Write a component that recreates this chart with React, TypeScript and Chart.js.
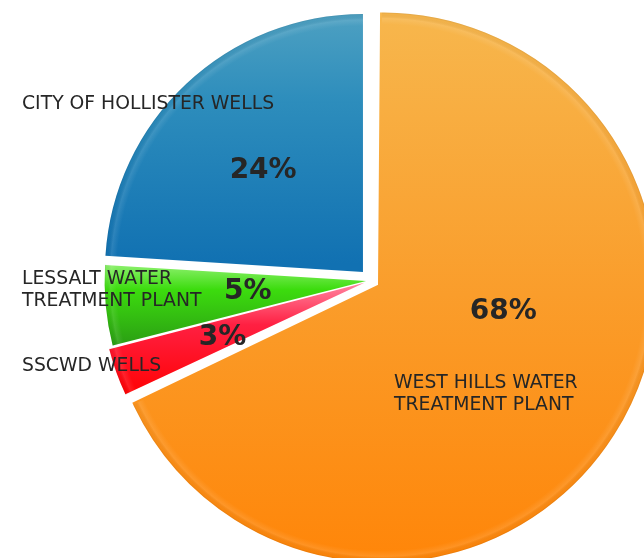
import React, { useEffect, useRef } from "react";
import { Chart, registerables } from "chart.js";

Chart.register(...registerables);

// ---- data ----
const categories = [
  "WEST HILLS WATER TREATMENT PLANT",
  "SSCWD WELLS",
  "LESSALT WATER TREATMENT PLANT",
  "CITY OF HOLLISTER WELLS",
];
const values = [68, 3, 5, 24];
const percentLabels = ["68%", "3%", "5%", "24%"];
const labelLines = [
  ["WEST HILLS WATER", "TREATMENT PLANT"],
  ["SSCWD WELLS"],
  ["LESSALT WATER", "TREATMENT PLANT"],
  ["CITY OF HOLLISTER WELLS"],
];

// ---- styles ----
const sliceOffsets = [52, 28, 20, 47];
const sliceBorders = [8, 0, 0, 0];
const gradientStops: [number, string][][] = [
  [[0, "#f7b64c"], [0.5, "#fa9d2b"], [1, "#ff8508"]],
  [[0, "#ff7f9c"], [0.35, "#ff2042"], [1, "#ff0000"]],
  [[0, "#8cf06c"], [0.3, "#3cdc0e"], [1, "#2a9c14"]],
  [[0, "#55a5c3"], [0.4, "#2d8dbc"], [1, "#1171b2"]],
];
// label placement (text only)
const catLabelPos = [
  { x: 394, y: 383 },
  { x: 22, y: 366 },
  { x: 22, y: 279 },
  { x: 22, y: 104 },
];
const pctRadiusFrac = [0.48, 0.59, 0.46, 0.55];
const pctAngleAdj = [-21, -1.5, 0, -1.5];
const BASE_RADIUS = 258;

function sliceAngles(i: number) {
  const total = values.reduce((a, b) => a + b, 0);
  let start = -Math.PI / 2;
  for (let k = 0; k < i; k++) start += (values[k] / total) * Math.PI * 2;
  const end = start + (values[i] / total) * Math.PI * 2;
  return { start, end };
}

function makeGradient(context: any) {
  const chart = context.chart;
  const area = chart.chartArea;
  const i = context.dataIndex;
  if (!area || i === undefined) return gradientStops[0][0][1];
  const cx = (area.left + area.right) / 2;
  const cy = (area.top + area.bottom) / 2;
  const { start, end } = sliceAngles(i);
  const off = sliceOffsets[i] / 4;
  const mid = (start + end) / 2;
  const ax = cx + Math.cos(mid) * off;
  const ay = cy + Math.sin(mid) * off;
  const r = BASE_RADIUS + off + sliceBorders[i] / 2;
  let minY = ay, maxY = ay;
  for (let s = 0; s <= 60; s++) {
    const a = start + ((end - start) * s) / 60;
    const y = ay + Math.sin(a) * r;
    minY = Math.min(minY, y);
    maxY = Math.max(maxY, y);
  }
  const g = chart.ctx.createLinearGradient(0, minY, 0, maxY);
  gradientStops[i].forEach(([p, c]) => g.addColorStop(p, c));
  return g;
}

function arcGeom(arc: any) {
  const p = arc.getProps(["x", "y", "startAngle", "endAngle", "outerRadius"], true);
  const mid = (p.startAngle + p.endAngle) / 2;
  const off = (arc.options.offset || 0) / 4;
  const ax = p.x + Math.cos(mid) * off;
  const ay = p.y + Math.sin(mid) * off;
  const circ = p.endAngle - p.startAngle;
  const fix = 1 - Math.sin(Math.min(Math.PI, circ));
  const r = p.outerRadius + off * fix + (arc.options.borderWidth || 0) / 2;
  return { ax, ay, r, mid, start: p.startAngle, end: p.endAngle, base: p.outerRadius };
}

const labelPlugin = {
  id: "sliceLabels",
  afterDatasetsDraw(chart: any) {
    const ctx = chart.ctx;
    const meta = chart.getDatasetMeta(0);
    ctx.save();
    // soft bevel on the rim
    meta.data.forEach((arc: any) => {
      const g = arcGeom(arc);
      ctx.save();
      ctx.beginPath();
      ctx.moveTo(g.ax, g.ay);
      ctx.arc(g.ax, g.ay, g.r, g.start, g.end);
      ctx.closePath();
      ctx.clip();
      const rg = ctx.createRadialGradient(g.ax, g.ay, Math.max(g.r - 12, 0), g.ax, g.ay, g.r);
      rg.addColorStop(0, "rgba(255,255,255,0)");
      rg.addColorStop(0.5, "rgba(255,255,255,0.10)");
      rg.addColorStop(0.85, "rgba(0,0,0,0.02)");
      rg.addColorStop(1, "rgba(0,0,0,0.09)");
      ctx.fillStyle = rg;
      ctx.fillRect(g.ax - g.r, g.ay - g.r, g.r * 2, g.r * 2);
      ctx.restore();
    });

    ctx.fillStyle = "#262626";
    // percentage labels
    ctx.font = "bold 28px 'DejaVu Sans', sans-serif";
    ctx.textAlign = "center";
    ctx.textBaseline = "middle";
    meta.data.forEach((arc: any, i: number) => {
      const g = arcGeom(arc);
      const a = g.mid + (pctAngleAdj[i] * Math.PI) / 180;
      const d = g.base * pctRadiusFrac[i];
      ctx.fillText(percentLabels[i], g.ax + Math.cos(a) * d, g.ay + Math.sin(a) * d);
    });
    // category labels
    ctx.font = "18.8px 'DejaVu Sans', sans-serif";
    ctx.textAlign = "left";
    labelLines.forEach((lines, i) => {
      lines.forEach((line, j) => {
        ctx.fillText(line, catLabelPos[i].x, catLabelPos[i].y + j * 22.5);
      });
    });
    ctx.restore();
  },
};

export default function App() {
  const canvasRef = useRef<HTMLCanvasElement | null>(null);
  useEffect(() => {
    if (!canvasRef.current) return;
    const chart = new Chart(canvasRef.current, {
      type: "pie",
      data: {
        labels: categories,
        datasets: [
          {
            data: values,
            backgroundColor: makeGradient as any,
            borderColor: makeGradient as any,
            borderWidth: sliceBorders,
            borderAlign: "center",
            borderJoinStyle: "miter",
            offset: sliceOffsets,
            clip: false as any,
          } as any,
        ],
      },
      options: {
        responsive: false,
        animation: false,
        devicePixelRatio: 1,
        radius: BASE_RADIUS,
        layout: { padding: { left: 98, top: 3, right: 0, bottom: 0 } },
        events: [],
        plugins: {
          legend: { display: false },
          tooltip: { enabled: false },
        },
      } as any,
      plugins: [labelPlugin],
    });
    return () => chart.destroy();
  }, []);
  return (
    <div
      style={{
        position: "fixed",
        left: 0,
        top: 0,
        width: 644,
        height: 558,
        overflow: "hidden",
        background: "#ffffff",
      }}
    >
      <canvas ref={canvasRef} width={644} height={558} style={{ display: "block" }} />
    </div>
  );
}
